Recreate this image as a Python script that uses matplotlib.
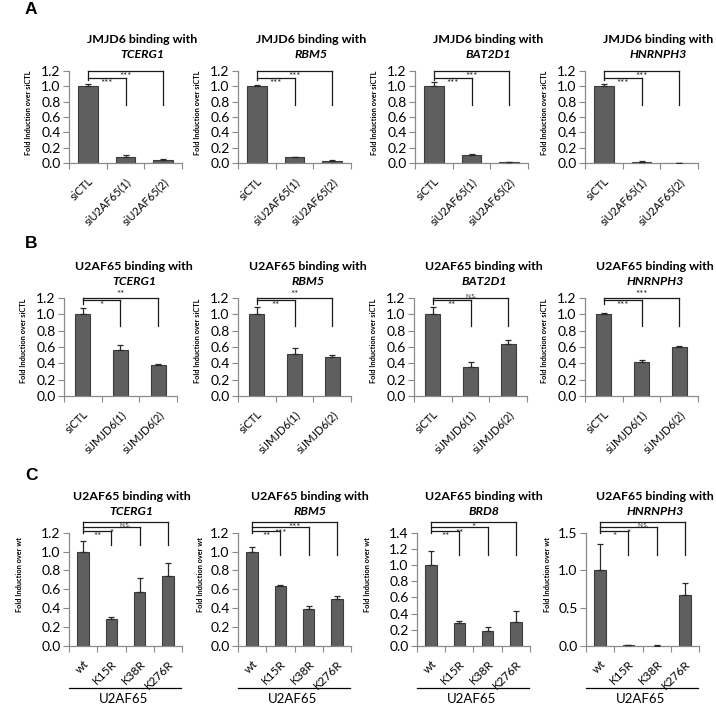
import matplotlib
matplotlib.use('Agg')
import matplotlib.pyplot as plt
import numpy as np

plt.rcParams['font.family'] = ['Lato', 'DejaVu Sans']

# ---- data ----
# A: JMJD6 binding after U2AF65 knockdown
a_genes = ['TCERG1', 'RBM5', 'BAT2D1', 'HNRNPH3']
a_labels = ['siCTL', 'siU2AF65(1)', 'siU2AF65(2)']
a_means = [[1.00, 0.08, 0.04],
           [1.00, 0.08, 0.03],
           [1.00, 0.11, 0.015],
           [1.00, 0.02, 0.005]]
a_errs = [[0.03, 0.03, 0.015],
          [0.01, 0.008, 0.007],
          [0.055, 0.012, 0.008],
          [0.025, 0.01, 0.003]]
a_sig = [['***', '***'], ['***', '***'], ['***', '***'], ['***', '***']]

# B: U2AF65 binding after JMJD6 knockdown
b_genes = ['TCERG1', 'RBM5', 'BAT2D1', 'HNRNPH3']
b_labels = ['siCTL', 'siJMJD6(1)', 'siJMJD6(2)']
b_means = [[1.00, 0.56, 0.38],
           [1.00, 0.52, 0.48],
           [1.00, 0.35, 0.64],
           [1.00, 0.42, 0.60]]
b_errs = [[0.08, 0.07, 0.01],
          [0.09, 0.07, 0.02],
          [0.09, 0.07, 0.05],
          [0.015, 0.02, 0.015]]
b_sig = [['*', '**'], ['**', '**'], ['**', 'N.S.'], ['***', '***']]

# C: U2AF65 mutants
c_genes = ['TCERG1', 'RBM5', 'BRD8', 'HNRNPH3']
c_labels = ['wt', 'K15R', 'K38R', 'K276R']
c_means = [[1.00, 0.29, 0.57, 0.74],
           [1.00, 0.64, 0.39, 0.50],
           [1.00, 0.29, 0.18, 0.30],
           [1.00, 0.01, 0.005, 0.68]]
c_errs = [[0.11, 0.02, 0.15, 0.14],
          [0.05, 0.005, 0.03, 0.03],
          [0.18, 0.015, 0.055, 0.13],
          [0.35, 0.003, 0.002, 0.15]]
c_sig = [['**', '*', 'N.S.'], ['**', '***', '***'], ['**', '**', '*'], ['*', '*', 'N.S.']]
c_ymax = [1.2, 1.2, 1.4, 1.5]
c_ystep = [0.2, 0.2, 0.2, 0.5]

BAR = '#5f5f5f'
EDGE = '#3c3c3c'
SPINE = '#8a8a8a'

W, H = 716, 704
fig = plt.figure(figsize=(W / 100, H / 100), dpi=100)


def add_ax(left, top, w, h):
    return fig.add_axes([left / W, 1 - (top + h) / H, w / W, h / H])


def draw(ax, labels, means, errs, sig, ymax, ystep, ylabel, barw,
         levels, label_y, label_va, drop, left_bottom, ylab_x, ylab_y, xfs):
    n = len(labels)
    x = np.arange(n)
    ax.bar(x, means, width=barw, color=BAR, edgecolor=EDGE, linewidth=0.8, zorder=2)
    ax.errorbar(x, means, yerr=[np.zeros(n), errs], fmt='none', ecolor='#2a2a2a',
                elinewidth=0.9, capsize=2.5, capthick=0.9, zorder=3)
    ax.set_xlim(-0.5, n - 0.5)
    ax.set_ylim(0, ymax)
    ticks = np.arange(0, ymax + 1e-9, ystep)
    ax.set_yticks(ticks)
    ax.set_yticklabels(['%.1f' % v for v in ticks], fontsize=10)
    ax.set_xticks(x)
    ax.set_xticklabels(labels, rotation=45, ha='right', rotation_mode='anchor', fontsize=xfs)
    ax.set_xticks(np.arange(n + 1) - 0.5, minor=True)
    ax.tick_params(axis='x', which='major', length=0, pad=9)
    ax.tick_params(axis='x', which='minor', length=4, color=SPINE, width=0.8)
    ax.tick_params(axis='y', length=4, color=SPINE, width=0.8, pad=2)
    for s in ['top', 'right']:
        ax.spines[s].set_visible(False)
    for s in ['left', 'bottom']:
        ax.spines[s].set_color(SPINE)
        ax.spines[s].set_linewidth(0.9)
    ax.set_ylabel(ylabel, fontsize=5.3, fontweight='bold')
    ax.yaxis.set_label_coords(ylab_x, ylab_y)

    # significance brackets
    tr = ax.get_xaxis_transform()
    kw = dict(transform=tr, clip_on=False, color='#1a1a1a', lw=0.9, zorder=4)
    ax.plot([0, 0], [max(levels), left_bottom], **kw)
    for k in range(1, n):
        lv = levels[k - 1]
        ax.plot([0, k], [lv, lv], **kw)
        ax.plot([k, k], [lv, drop], **kw)
        s = sig[k - 1]
        fs = 4.5 if s == 'N.S.' else 7
        ax.text(k / 2, label_y[k - 1], s, transform=tr, ha='center', va=label_va[k - 1],
                fontsize=fs, color='#1a1a1a', clip_on=False)


def title(ax, gene, xf, y1, y2, prefix):
    ax.text(xf, y1, prefix + ' binding with', transform=ax.transAxes, ha='center',
            va='center', fontsize=8.9, fontweight='bold')
    ax.text(xf, y2, gene, transform=ax.transAxes, ha='center', va='center',
            fontsize=8.9, fontweight='bold', style='italic')


# row A
a_left = [69, 238, 415, 585]
for i in range(4):
    ax = add_ax(a_left[i], 70.7, 113, 92.6)
    draw(ax, a_labels, a_means[i], a_errs[i], a_sig[i], 1.2, 0.2,
         'Fold Induction over siCTL', 0.53,
         levels=[0.918, 1.0], label_y=[0.905, 0.99], label_va=['top', 'top'],
         drop=0.63, left_bottom=0.9, ylab_x=-0.33, ylab_y=0.55, xfs=8)
    title(ax, a_genes[i], 0.65, 1.342, 1.18, 'JMJD6')

# row B
b_left = [64, 238, 414, 585]
for i in range(4):
    ax = add_ax(b_left[i], 298, 113, 98)
    draw(ax, b_labels, b_means[i], b_errs[i], b_sig[i], 1.2, 0.2,
         'Fold Induction over siCTL', 0.39,
         levels=[0.975, 1.0], label_y=[0.965, 0.985], label_va=['top', 'bottom'],
         drop=0.71, left_bottom=0.935, ylab_x=-0.33, ylab_y=0.56, xfs=8)
    title(ax, b_genes[i], 0.62, 1.32, 1.166, 'U2AF65')

# row C
c_left = [69, 238, 417, 586]
c_title_x = [0.555, 0.64, 0.593, 0.61]
c_ylab_x = [-0.41, -0.30, -0.41, -0.31]
c_drop = [0.89, 0.80, 0.80, 0.80]
for i in range(4):
    ax = add_ax(c_left[i], 532.7, 113, 113.3)
    draw(ax, c_labels, c_means[i], c_errs[i], c_sig[i], c_ymax[i], c_ystep[i],
         'Fold Induction over wt', 0.4,
         levels=[1.018, 1.048, 1.097], label_y=[1.005, 1.036, 1.086],
         label_va=['top', 'top', 'top'],
         drop=c_drop[i], left_bottom=0.995, ylab_x=c_ylab_x[i], ylab_y=0.627, xfs=8.5)
    title(ax, c_genes[i], c_title_x[i], 1.318, 1.186, 'U2AF65')
    ax.plot([0.0, 0.99], [-0.37, -0.37], transform=ax.transAxes, clip_on=False,
            color='black', lw=0.9)
    ax.text(0.48, -0.47, 'U2AF65', transform=ax.transAxes, ha='center', va='center',
            fontsize=9.5)

# panel letters
for letter, y in [('A', 9), ('B', 243), ('C', 475)]:
    fig.text(31 / W, 1 - y / H, letter, ha='center', va='center', fontsize=12.5,
             fontweight='bold', family='Liberation Sans')

fig.savefig('out.png', dpi=100)
